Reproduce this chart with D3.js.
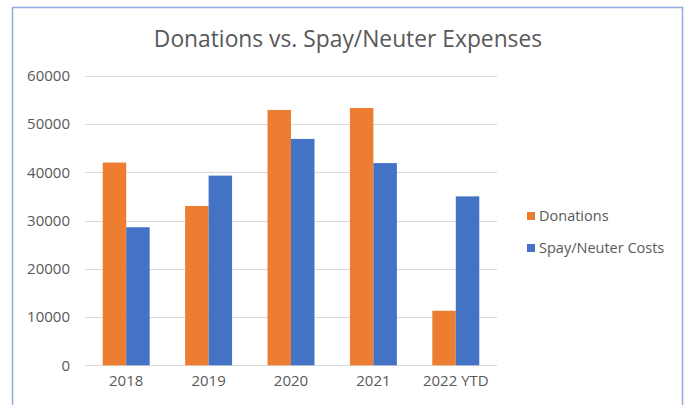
<!DOCTYPE html>
<html>
<head>
<meta charset="utf-8">
<script src="https://cdn.jsdelivr.net/npm/d3@7"></script>
<style>
  body { margin: 0; background: #fff; }
  text { font-family: "Open Sans", "Noto Sans", sans-serif; fill: #595959; }
</style>
</head>
<body>
<script>
// chart data
var categories = ["2018", "2019", "2020", "2021", "2022 YTD"];
var donations = [42000, 33000, 52900, 53300, 11300];
var spayNeuter = [28600, 39300, 46900, 41900, 35000];
var seriesNames = ["Donations", "Spay/Neuter Costs"];
var yTicks = [0, 10000, 20000, 30000, 40000, 50000, 60000];

var width = 684, height = 405,
    plot = { left: 85, right: 497, top: 75.7, bottom: 365.3 },
    color_don = "#ed7d31", color_spay = "#4472c4";

var svg = d3.select("body").append("svg")
    .attr("width", width)
    .attr("height", height);

// chart area border
svg.append("rect")
    .attr("x", 12.5).attr("y", 7.5)
    .attr("width", 670).attr("height", 410)
    .attr("fill", "#fff")
    .attr("stroke", "#8eaadb")
    .attr("stroke-width", 1.5);

var x0 = d3.scaleBand().domain(categories).range([plot.left, plot.right]).paddingInner(0.43).paddingOuter(0.215);
var x1 = d3.scaleBand().domain(seriesNames).range([0, x0.bandwidth()]);
var y = d3.scaleLinear().domain([0, 60000]).range([plot.bottom, plot.top]);

// gridlines
svg.append("g")
    .selectAll("line")
    .data(yTicks)
    .enter().append("line")
    .attr("x1", plot.left).attr("x2", plot.right)
    .attr("y1", d => Math.round(y(d)) + 0.5)
    .attr("y2", d => Math.round(y(d)) + 0.5)
    .attr("stroke", "#d9d9d9")
    .attr("stroke-width", 1);

// y axis labels
var yAxis = d3.axisLeft(y).tickValues(yTicks).tickSize(0).tickPadding(0).tickFormat(d3.format("d"));
var gy = svg.append("g")
    .attr("transform", "translate(70,0)")
    .call(yAxis);
gy.select(".domain").remove();
gy.selectAll("text").style("font-size", "15px").attr("fill", "#595959");

// bars
var rows = categories.map((c, i) => ({ cat: c, values: [donations[i], spayNeuter[i]] }));
var groups = svg.selectAll(".cat")
    .data(rows)
    .enter().append("g")
    .attr("class", "cat")
    .attr("transform", d => `translate(${x0(d.cat)},0)`);

groups.selectAll("rect")
    .data(d => d.values.map((v, j) => ({ name: seriesNames[j], value: v })))
    .enter().append("rect")
    .attr("x", d => x1(d.name))
    .attr("y", d => y(d.value))
    .attr("width", x1.bandwidth())
    .attr("height", d => y(0) - y(d.value))
    .attr("fill", d => d.name === "Donations" ? color_don : color_spay);

// x axis labels
var xAxis = d3.axisBottom(x0).tickSize(0).tickPadding(0);
var gx = svg.append("g")
    .attr("transform", `translate(0,${plot.bottom + 10})`)
    .call(xAxis);
gx.select(".domain").remove();
gx.selectAll("text").style("font-size", "15px").attr("fill", "#595959");

// title
svg.append("text")
    .attr("x", 348).attr("y", 47)
    .attr("text-anchor", "middle")
    .style("font-size", "22.8px")
    .text("Donations vs. Spay/Neuter Expenses");

// legend
var legend = svg.append("g").attr("transform", "translate(527,0)");
var legendY = [216, 248];
seriesNames.forEach(function (name, i) {
    legend.append("rect")
        .attr("x", 0).attr("y", legendY[i] - 4)
        .attr("width", 8).attr("height", 8)
        .attr("fill", i === 0 ? color_don : color_spay);
    legend.append("text")
        .attr("x", 12).attr("y", legendY[i] + 5)
        .style("font-size", "14.5px")
        .text(name);
});
</script>
</body>
</html>
